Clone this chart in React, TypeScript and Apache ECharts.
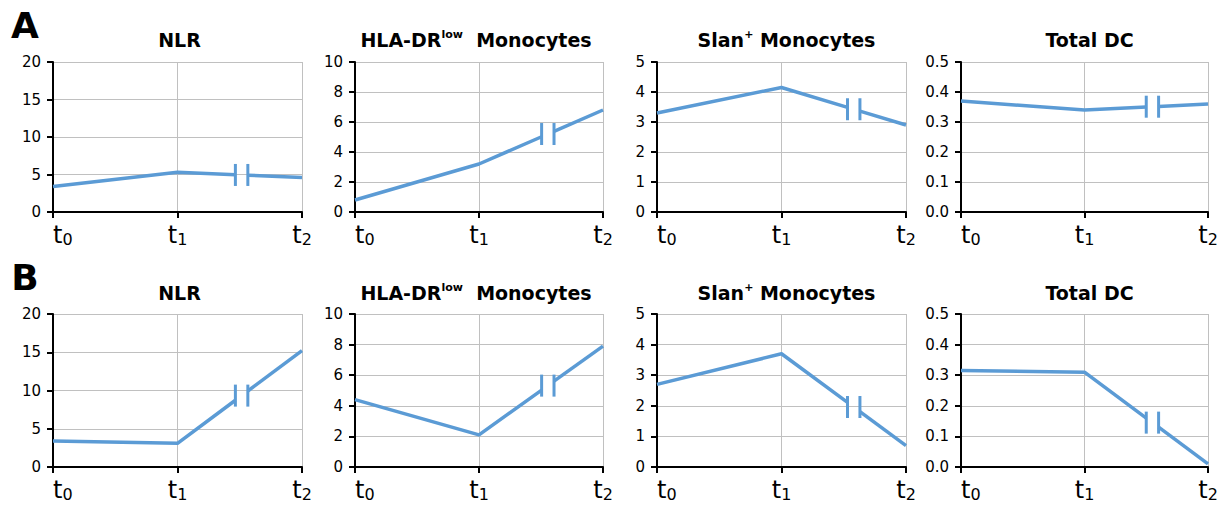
import React, { useEffect, useRef } from "react";
import * as echarts from "echarts";

const CATEGORIES = ["t0", "t1", "t2"];
const TITLES = [
  "{b|NLR}",
  "{b|HLA-DR}{sup|low}{b|  Monocytes}",
  "{b|Slan}{sup|+}{b| Monocytes}",
  "{b|Total DC}",
];
const ROW_LABELS = ["A", "B"];

// Row A
const NLR_A = [3.4, 5.3, 4.6];
const HLA_A = [0.8, 3.2, 6.8];
const SLAN_A = [3.3, 4.15, 2.9];
const DC_A = [0.37, 0.34, 0.36];
// Row B
const NLR_B = [3.4, 3.1, 15.2];
const HLA_B = [4.4, 2.1, 7.9];
const SLAN_B = [2.7, 3.7, 0.7];
const DC_B = [0.315, 0.31, 0.01];

const ROWS = [
  [NLR_A, HLA_A, SLAN_A, DC_A],
  [NLR_B, HLA_B, SLAN_B, DC_B],
];

const Y_MAX = [20, 10, 5, 0.5];
const Y_STEP = [5, 2, 1, 0.1];
const Y_DECIMALS = [0, 0, 0, 1];

// layout (pixels)
const COL_LEFT = [53, 355, 657, 961];
const COL_RIGHT = [302, 603, 906, 1208];
const ROW_TOP = [62, 314];
const ROW_BOTTOM = [212, 467];
const TITLE_Y = [40, 293];
const TITLE_DX = [2, -3, 5, 5];
const LETTER_Y = [25, 277];
const BREAK_START = [0.465, 0.505, 0.53, 0.5];
const BREAK_GAP = 0.1;

const LINE_COLOR = "#5b9bd5";
const GRID_COLOR = "#c0c0c0";
const FONT = "DejaVu Sans";
const W = 1227;
const H = 506;

export default function App() {
  const ref = useRef<HTMLDivElement>(null);

  useEffect(() => {
    if (!ref.current) return;
    const chart = echarts.init(ref.current, undefined, { renderer: "svg", width: W, height: H });

    const grids: any[] = [];
    const xAxes: any[] = [];
    const yAxes: any[] = [];
    const series: any[] = [];
    const graphics: any[] = [];

    ROWS.forEach((row, r) => {
      graphics.push({
        type: "text",
        x: 25,
        y: LETTER_Y[r],
        style: {
          text: ROW_LABELS[r],
          fontFamily: FONT,
          fontWeight: "bold",
          fontSize: 36,
          fill: "#000",
          align: "center",
          verticalAlign: "middle",
        },
      });
      row.forEach((vals, c) => {
        const idx = grids.length;
        grids.push({
          left: COL_LEFT[c],
          width: COL_RIGHT[c] - COL_LEFT[c],
          top: ROW_TOP[r],
          height: ROW_BOTTOM[r] - ROW_TOP[r],
          containLabel: false,
        });
        graphics.push({
          type: "text",
          x: (COL_LEFT[c] + COL_RIGHT[c]) / 2 + TITLE_DX[c],
          y: TITLE_Y[r],
          style: {
            text: TITLES[c],
            align: "center",
            verticalAlign: "middle",
            fill: "#000",
            rich: {
              b: { fontFamily: FONT, fontWeight: "bold", fontSize: 19, lineHeight: 22, fill: "#000", color: "#000", verticalAlign: "middle" },
              sup: { fontFamily: FONT, fontWeight: "bold", fontSize: 11, lineHeight: 11, fill: "#000", color: "#000", verticalAlign: "top" },
            },
          },
        });
        xAxes.push({
          type: "value",
          gridIndex: idx,
          min: 0,
          max: 2,
          interval: 1,
          axisLine: { show: true, onZero: false, lineStyle: { color: "#000", width: 2 } },
          axisTick: { show: true, length: 6, lineStyle: { color: "#000", width: 2 } },
          splitLine: { show: true, lineStyle: { color: GRID_COLOR, width: 1 } },
          axisLabel: {
            margin: 11,
            alignMinLabel: "left",
            formatter: (v: number) => {
              const cat = CATEGORIES[Math.round(v)];
              return `{t|${cat[0]}}{s|${cat.slice(1)}}`;
            },
            rich: {
              t: { fontFamily: FONT, fontSize: 24, lineHeight: 24, color: "#000", padding: [0, 0, 3, 0], verticalAlign: "top" },
              s: { fontFamily: FONT, fontSize: 16, lineHeight: 16, color: "#000", verticalAlign: "bottom" },
            },
          },
        });
        yAxes.push({
          type: "value",
          gridIndex: idx,
          min: 0,
          max: Y_MAX[c],
          interval: Y_STEP[c],
          axisLine: { show: true, lineStyle: { color: "#000", width: 2 } },
          axisTick: { show: true, length: 6, lineStyle: { color: "#000", width: 2 } },
          splitLine: { show: true, lineStyle: { color: GRID_COLOR, width: 1 } },
          axisLabel: {
            margin: 12,
            fontFamily: FONT,
            fontSize: 15,
            color: "#000",
            formatter: (v: number) => v.toFixed(Y_DECIMALS[c]),
          },
        });
        const f1 = BREAK_START[c];
        const f2 = f1 + BREAK_GAP;
        series.push({
          type: "custom",
          xAxisIndex: idx,
          yAxisIndex: idx,
          data: [[0, vals[0], vals[1], vals[2]]],
          encode: { x: 0, y: 1 },
          renderItem: (params: any, api: any) => {
            const v0 = api.value(1);
            const v1 = api.value(2);
            const v2 = api.value(3);
            const p0 = api.coord([0, v0]);
            const p1 = api.coord([1, v1]);
            const p2 = api.coord([2, v2]);
            const a = [p1[0] + (p2[0] - p1[0]) * f1, p1[1] + (p2[1] - p1[1]) * f1];
            const b = [p1[0] + (p2[0] - p1[0]) * f2, p1[1] + (p2[1] - p1[1]) * f2];
            const my = (a[1] + b[1]) / 2;
            const st = { stroke: LINE_COLOR, lineWidth: 3.5, fill: "none", lineJoin: "round" };
            return {
              type: "group",
              children: [
                { type: "polyline", shape: { points: [p0, p1, a] }, style: st },
                { type: "polyline", shape: { points: [b, p2] }, style: st },
                { type: "line", shape: { x1: a[0], y1: my - 11, x2: a[0], y2: my + 11 }, style: { stroke: LINE_COLOR, lineWidth: 3 } },
                { type: "line", shape: { x1: b[0], y1: my - 11, x2: b[0], y2: my + 11 }, style: { stroke: LINE_COLOR, lineWidth: 3 } },
              ],
            };
          },
        });
      });
    });

    chart.setOption({
      animation: false,
      backgroundColor: "#fff",
      grid: grids,
      xAxis: xAxes,
      yAxis: yAxes,
      series,
      graphic: graphics,
    });

    return () => chart.dispose();
  }, []);

  return (
    <div
      ref={ref}
      style={{ position: "fixed", left: 0, top: 0, width: W, height: H, background: "#fff" }}
    />
  );
}
